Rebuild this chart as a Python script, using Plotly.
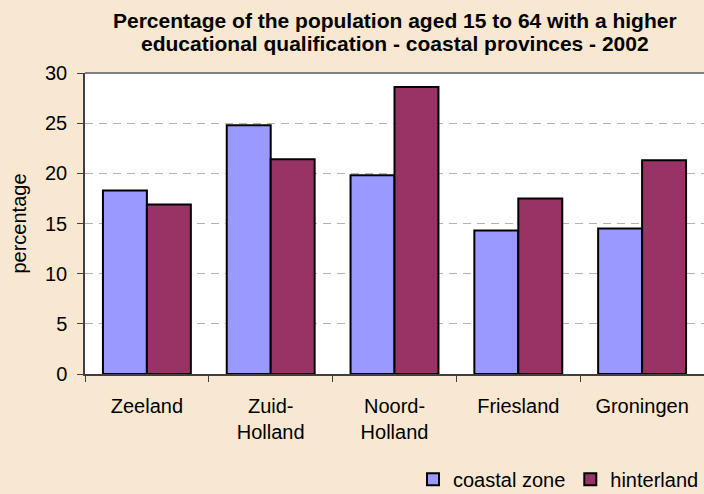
import plotly.graph_objects as go

categories = ["Zeeland", "Zuid-<br>Holland", "Noord-<br>Holland", "Friesland", "Groningen"]
coastal_zone = [18.3, 24.8, 19.8, 14.3, 14.5]
hinterland = [16.9, 21.4, 28.6, 17.5, 21.3]
y_ticks = [0, 5, 10, 15, 20, 25, 30]
title_lines = [
    "Percentage of the population aged 15 to 64 with a higher",
    "educational qualification - coastal provinces - 2002",
]

font_family = "Liberation Sans, Arial, sans-serif"

fig = go.Figure()
fig.add_trace(go.Bar(
    x=categories, y=coastal_zone, name="coastal zone",
    marker=dict(color="#9999FF", line=dict(color="#000000", width=2)),
))
fig.add_trace(go.Bar(
    x=categories, y=hinterland, name="hinterland",
    marker=dict(color="#993366", line=dict(color="#000000", width=2)),
))

fig.update_layout(
    width=704, height=494,
    paper_bgcolor="#F8E8D2",
    plot_bgcolor="#FFFFFF",
    margin=dict(l=85, r=0, t=73, b=120),
    barmode="group", bargap=0.29, bargroupgap=0,
    font=dict(family=font_family, size=20, color="#000000"),
    legend=dict(
        orientation="h", x=1.0, xanchor="right", xref="container",
        y=0.03, yanchor="middle", yref="container",
        bgcolor="rgba(0,0,0,0)", font=dict(size=20),
        itemwidth=30, traceorder="normal",
    ),
    showlegend=True,
)
for yy, line in zip([1.173, 1.099], title_lines):
    fig.add_annotation(
        text="<b>" + line + "</b>", xref="paper", yref="paper",
        x=0.5, y=yy, xanchor="center", yanchor="middle", showarrow=False,
        font=dict(family=font_family, size=21, color="#000000"),
    )
fig.add_shape(type="line", xref="paper", yref="paper", x0=0, x1=1, y0=1, y1=1,
              line=dict(color="#808080", width=2))
fig.update_xaxes(
    showline=True, linecolor="#404040", linewidth=1.5,
    ticks="outside", tickson="boundaries", ticklen=6, tickcolor="#404040",
    showgrid=False, tickfont=dict(size=20), automargin=False, ticklabelstandoff=13,
)
fig.update_yaxes(
    range=[0, 30], tickvals=y_ticks, showline=True, linecolor="#404040", linewidth=1.5,
    ticks="outside", ticklen=6, tickcolor="#404040",
    showgrid=True, gridcolor="#B4B4B4", griddash="8px,6px", gridwidth=1.2,
    zeroline=False, tickfont=dict(size=20), ticklabelstandoff=6, automargin=False,
    title=dict(text="percentage", font=dict(size=20), standoff=13),
)

fig.write_html(
    "out.html",
    config={"displayModeBar": False},
    post_script="document.body.style.margin='0';document.body.style.background='#F8E8D2';",
)
